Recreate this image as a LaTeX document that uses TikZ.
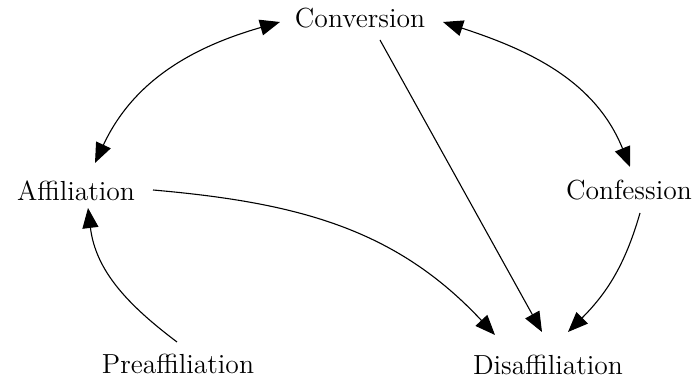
\documentclass[tikz,border=0pt]{standalone}
\usetikzlibrary{arrows.meta}
\begin{document}
\begin{tikzpicture}[x=0.5pt,y=0.5pt,
  lbl/.style={font=\fontsize{13.8}{16}\selectfont, inner sep=0pt},
  tipshape/.style={},
  conn/.style={line width=0.55pt, -{Triangle[length=10pt,width=8pt]}},
  bidir/.style={line width=0.55pt, {Triangle[length=10pt,width=8pt]}-{Triangle[length=10pt,width=8pt]}}]
\useasboundingbox (0,0) rectangle (697,-383);
\node[lbl] (conv) at (360,-18) {Conversion};
\node[lbl] (aff) at (76,-191) {Affiliation};
\node[lbl] (conf) at (629,-190) {Confession};
\node[lbl] (pre) at (178,-364) {Preaffiliation};
\node[lbl] (dis) at (548,-365) {Disaffiliation};
\draw[bidir] ([shift={(19,28)}]aff.center) to[out=65,in=196] ([shift={(-80,-4)}]conv.center);
\draw[bidir] ([shift={(83,-4)}]conv.center) to[out=-18,in=112] ([shift={(1,23)}]conf.center);
\draw[conn] ([shift={(20,-22)}]conv.center) -- ([shift={(-6,33)}]dis.center);
\draw[conn] ([shift={(77,1)}]aff.center) to[out=-5,in=133] ([shift={(-53,30)}]dis.center);
\draw[conn] ([shift={(11,-23)}]conf.center) to[out=-106,in=45] ([shift={(20,33)}]dis.center);
\draw[conn] ([shift={(-1,22)}]pre.center) to[out=143,in=-83] ([shift={(12,-17)}]aff.center);
\end{tikzpicture}
\end{document}
